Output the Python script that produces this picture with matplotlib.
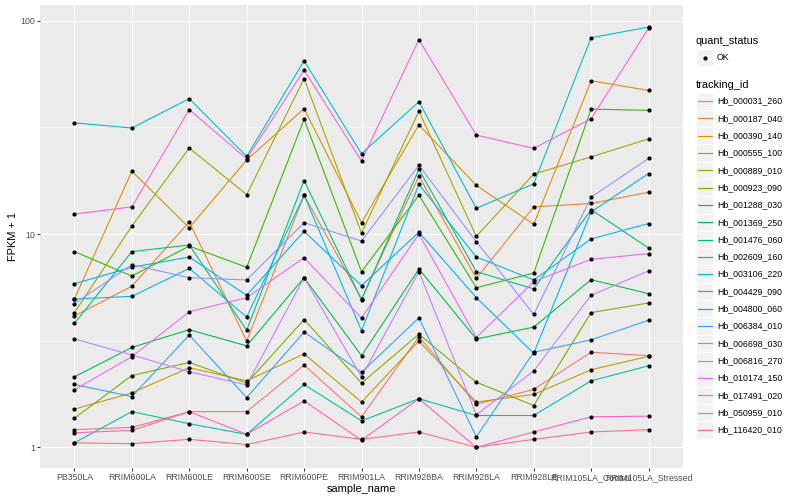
import numpy as np
import matplotlib
matplotlib.use("Agg")
import matplotlib.pyplot as plt
from matplotlib.patches import Rectangle
from matplotlib.lines import Line2D

plt.rcParams['font.family'] = ['Liberation Sans', 'DejaVu Sans']

samples = ["PB350LA", "RRIM600LA", "RRIM600LE", "RRIM600SE", "RRIM600PE", "RRIM901LA",
           "RRIM928BA", "RRIM928LA", "RRIM928LE", "RRIM105LA_Control", "RRIM105LA_Stressed"]

tracking_ids = ["Hb_000031_260", "Hb_000187_040", "Hb_000390_140", "Hb_000555_100",
                "Hb_000889_010", "Hb_000923_090", "Hb_001288_030", "Hb_001369_250",
                "Hb_001476_060", "Hb_002609_160", "Hb_003106_220", "Hb_004429_090",
                "Hb_004800_060", "Hb_006384_010", "Hb_006698_030", "Hb_006816_270",
                "Hb_010174_150", "Hb_017491_020", "Hb_050959_010", "Hb_116420_010"]

# ggplot default hue palette for 20 levels
colors = ["#F8766D", "#EA8331", "#D89000", "#C09B00", "#A3A500", "#7CAE00", "#39B600",
          "#00BB4E", "#00BF7D", "#00C1A3", "#00BFC4", "#00BAE0", "#00B0F6", "#35A2FF",
          "#9590FF", "#C77CFF", "#E76BF3", "#FA62DB", "#FF62BC", "#FF6C91"]

# FPKM + 1, one value per sample
hb_000031_260 = [1.21, 1.24, 1.47, 1.47, 2.43, 1.39, 3.30, 1.59, 1.87, 2.79, 2.69]
hb_000187_040 = [4.13, 5.69, 11.4, 3.15, 15.2, 4.96, 18.7, 6.20, 13.4, 13.9, 15.7]
hb_000390_140 = [4.96, 19.7, 10.7, 22.2, 38.7, 11.3, 32.5, 16.9, 11.1, 52.3, 47.1]
hb_000555_100 = [1.51, 1.80, 2.36, 2.05, 2.74, 1.63, 3.15, 1.63, 1.77, 2.31, 2.67]
hb_000889_010 = [4.28, 10.9, 25.3, 15.3, 53.5, 10.1, 37.6, 9.75, 19.1, 23.0, 27.9]
hb_000923_090 = [1.37, 2.17, 2.50, 2.00, 3.97, 2.00, 3.39, 2.02, 1.57, 4.28, 4.75]
hb_001288_030 = [8.27, 6.35, 8.78, 6.98, 34.5, 6.66, 15.2, 5.60, 6.56, 38.5, 38.0]
hb_001369_250 = [2.14, 2.94, 3.56, 2.99, 6.24, 2.69, 6.85, 3.22, 3.66, 6.11, 5.25]
hb_001476_060 = [3.81, 8.27, 8.88, 3.54, 17.8, 4.92, 20.1, 6.66, 5.53, 13.0, 8.60]
hb_002609_160 = [1.05, 1.47, 1.29, 1.15, 1.97, 1.33, 1.69, 1.41, 1.41, 2.05, 2.41]
hb_003106_220 = [33.2, 31.4, 43.1, 23.1, 64.9, 23.8, 41.7, 13.2, 17.2, 83.2, 93.4]
hb_004429_090 = [4.96, 5.10, 6.90, 4.08, 15.2, 3.52, 17.1, 7.80, 6.09, 9.48, 11.2]
hb_004800_060 = [5.85, 6.98, 7.80, 5.16, 10.3, 5.73, 10.2, 5.03, 2.76, 12.7, 19.2]
hb_006384_010 = [1.97, 1.73, 3.36, 1.71, 3.47, 2.25, 4.04, 1.12, 2.79, 3.19, 3.94]
hb_006698_030 = [4.72, 7.18, 6.24, 6.09, 11.3, 9.27, 21.0, 9.20, 4.20, 14.9, 22.6]
hb_006816_270 = [3.22, 2.71, 2.26, 1.96, 6.24, 2.14, 6.66, 1.42, 2.28, 5.16, 6.71]
hb_010174_150 = [1.86, 2.66, 4.32, 5.03, 7.74, 4.04, 10.0, 3.27, 5.98, 7.61, 8.09]
hb_017491_020 = [12.4, 13.4, 38.3, 22.5, 58.7, 22.0, 81.5, 29.1, 25.2, 34.7, 92.1]
hb_050959_010 = [1.17, 1.20, 1.47, 1.15, 1.65, 1.08, 1.69, 1.00, 1.18, 1.39, 1.40]
hb_116420_010 = [1.05, 1.04, 1.09, 1.03, 1.18, 1.09, 1.18, 1.00, 1.09, 1.18, 1.21]

fpkm = [hb_000031_260, hb_000187_040, hb_000390_140, hb_000555_100, hb_000889_010,
        hb_000923_090, hb_001288_030, hb_001369_250, hb_001476_060, hb_002609_160,
        hb_003106_220, hb_004429_090, hb_004800_060, hb_006384_010, hb_006698_030,
        hb_006816_270, hb_010174_150, hb_017491_020, hb_050959_010, hb_116420_010]

W, H = 800, 500
fig = plt.figure(figsize=(W / 72, H / 72), dpi=72)
ax = fig.add_axes([40 / W, 1 - 468 / H, 643 / W, 463 / H])
ax.set_facecolor("#EBEBEB")

x = np.arange(len(samples))
for vals, col in zip(fpkm, colors):
    ax.plot(x, vals, color=col, lw=1.1, zorder=3)
for vals in fpkm:
    ax.plot(x, vals, 'o', color='black', ms=4.2, mec='none', zorder=4)

ax.set_yscale('log')
ax.set_ylim(10 ** -0.097, 10 ** 2.0736)
ax.set_xlim(-0.6, len(samples) - 0.4)
ax.set_yticks([1, 10, 100])
ax.set_yticklabels(["1", "10", "100"])
ax.set_yticks([10 ** 0.5, 10 ** 1.5], minor=True)
ax.set_yticklabels([], minor=True)
ax.set_xticks(x)
ax.set_xticklabels(samples)
ax.grid(which='major', color='white', lw=1.1, zorder=1)
ax.grid(which='minor', axis='y', color='white', lw=0.55, zorder=1)
ax.set_axisbelow(True)
for s in ax.spines.values():
    s.set_visible(False)
ax.tick_params(which='major', length=2.75, width=1.0, color='#333333',
               labelcolor='#4D4D4D', labelsize=8.8, pad=2)
ax.tick_params(which='minor', length=0)
ax.set_xlabel("sample_name", fontsize=11, labelpad=2)
ax.set_ylabel("FPKM + 1", fontsize=11, labelpad=2)

# legends drawn in figure pixels (ggplot style keys)
def px(xp, yp):
    return xp / W, 1 - yp / H

key_w, key_h = 17.3, 17.3
kx = 696
fig.text(*px(kx, 41), "quant_status", fontsize=11, va='center', ha='left')
fig.patches.append(Rectangle(px(kx, 49 + key_h), key_w / W, key_h / H,
                             transform=fig.transFigure, fc='#F2F2F2', ec='white',
                             lw=1, zorder=1))
fig.lines.append(Line2D([px(kx + key_w / 2, 0)[0]], [px(0, 57.5)[1]], marker='o',
                        color='black', ms=4.2, mec='none', transform=fig.transFigure,
                        zorder=5))
fig.text(*px(kx + key_w + 3.5, 57.5), "OK", fontsize=8.8, va='center', ha='left')

fig.text(*px(kx, 84.5), "tracking_id", fontsize=11, va='center', ha='left')
top = 92.5
for i, (tid, col) in enumerate(zip(tracking_ids, colors)):
    y0 = top + i * key_h
    fig.patches.append(Rectangle(px(kx, y0 + key_h), key_w / W, key_h / H,
                                 transform=fig.transFigure, fc='#F2F2F2', ec='white',
                                 lw=1, zorder=1))
    yc = y0 + key_h / 2
    fig.lines.append(Line2D([px(kx + 1.7, 0)[0], px(kx + key_w - 1.7, 0)[0]],
                            [px(0, yc)[1]] * 2, color=col, lw=1.2,
                            transform=fig.transFigure, zorder=5))
    fig.text(*px(kx + key_w + 3.5, yc), tid, fontsize=8.8, va='center', ha='left')

fig.savefig("out.png", dpi=72)
